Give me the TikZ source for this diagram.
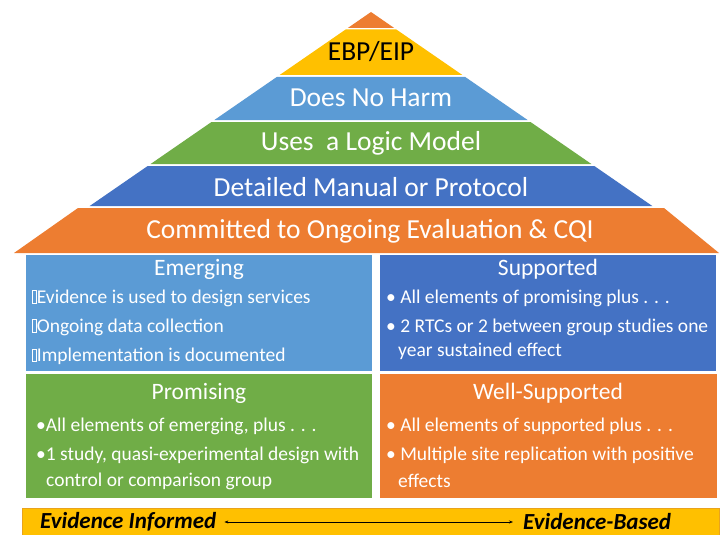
\documentclass[tikz,border=0pt]{standalone}
\usepackage{fontspec}
\setmainfont{Carlito}
\usetikzlibrary{
  calc,
  positioning,
  arrows.meta
}
\definecolor{tipOrange}{HTML}{ED7D31}
\definecolor{ebpYellow}{HTML}{FFC000}
\definecolor{harmBlue}{HTML}{5B9BD5}
\definecolor{logicGreen}{HTML}{70AD47}
\definecolor{manualBlue}{HTML}{4472C4}
\definecolor{barEdge}{HTML}{E9A31C}
\newcommand{\boxglyph}{{\setlength{\fboxrule}{0.6pt}\setlength{\fboxsep}{0pt}\fbox{\rule{0pt}{0.62em}\hspace{0.18em}}}}

\begin{document}
\begin{tikzpicture}[x=1pt, y=-1pt,
    bandtext/.style = {text=white, inner sep=0, font=\fontsize{27.5}{32}\selectfont},
    level/.style = {rectangle, inner sep=0},
    title/.style = {text=white, inner sep=0, font=\fontsize{23.5}{28}\selectfont},
    item/.style = {text=white, anchor=west, inner sep=0, font=\fontsize{19.5}{23}\selectfont},
    scaletext/.style = {text=black, anchor=west, inner sep=0, font=\fontsize{23}{26}\selectfont\bfseries\itshape}]
    \useasboundingbox[fill=white] (0,0) rectangle (723,535);

    % pyramid bands
    \foreach \ta/\tb/\col in {12/28/tipOrange, 29.5/75/ebpYellow, 77/120/harmBlue,
                              122/164/logicGreen, 166/206/manualBlue} {
      \fill[\col] ({371-1.45*(\ta-12)},\ta) -- ({371+1.45*(\ta-12)},\ta)
        -- ({371+1.45*(\tb-12)},\tb) -- ({371-1.45*(\tb-12)},\tb) -- cycle;
    }
    \fill[tipOrange] (78,208) -- (664,208) -- (719,253) -- (14,253) -- cycle;

    \node[bandtext,text=black] (ebp) at (371,52) {EBP/EIP};
    \node[bandtext] (harm) at (371,98) {Does No Harm};
    \node[bandtext] (logic) at (371,143) {Uses~~a Logic Model};
    \node[bandtext] (manual) at (371,187) {Detailed Manual or Protocol};
    \node[bandtext] (cqi) at (370,231) {Committed to Ongoing Evaluation \& CQI};

    % four levels
    \node[level,fill=harmBlue,minimum width=346,minimum height=116] (emerging) at (199,313) {};
    \node[level,fill=manualBlue,minimum width=336,minimum height=116] (supported) at (548,313) {};
    \node[level,fill=logicGreen,minimum width=346,minimum height=124] (promising) at (199,436) {};
    \node[level,fill=tipOrange,minimum width=337,minimum height=124] (wellsup) at (548.5,436) {};

    \node[title] (t1) at (199,269) {Emerging};
    \node[title] (t2) at (548,269) {Supported};
    \node[title] (t3) at (199,393) {Promising};
    \node[title] (t4) at (548,393) {Well-Supported};

    \node[item] (e1) at (32,298) {\boxglyph Evidence is used to design services};
    \node[item] (e2) at (32,327) {\boxglyph Ongoing data collection};
    \node[item] (e3) at (32,356) {\boxglyph Implementation is documented};

    \node[item] (s1) at (386,298) {• All elements of promising plus . . .};
    \node[item] (s2) at (386,327) {• 2 RTCs or 2 between group studies one};
    \node[item] (s3) at (398,351) {year sustained effect};

    \node[item] (p1) at (36,426) {•All elements of emerging, plus . . .};
    \node[item] (p2) at (36,455) {•1 study, quasi-experimental design with};
    \node[item] (p3) at (46,481) {control or comparison group};

    \node[item] (w1) at (386,426) {• All elements of supported plus . . .};
    \node[item] (w2) at (386,455) {• Multiple site replication with positive};
    \node[item] (w3) at (398,481) {effects};

    % evidence scale
    \fill[ebpYellow,draw=barEdge,line width=1pt] (22,508) rectangle (719,545);
    \node[scaletext] (informed) at (40,522) {Evidence Informed};
    \node[scaletext] (based) at (523,522) {Evidence-Based};
    \draw[{Stealth[length=4pt,width=3pt]}-{Stealth[length=4pt,width=3pt]},line width=0.7pt]
      (informed.east) ++(8,0) -- ($(based.west)+(-10,0)$);
  \end{tikzpicture}
\end{document}
